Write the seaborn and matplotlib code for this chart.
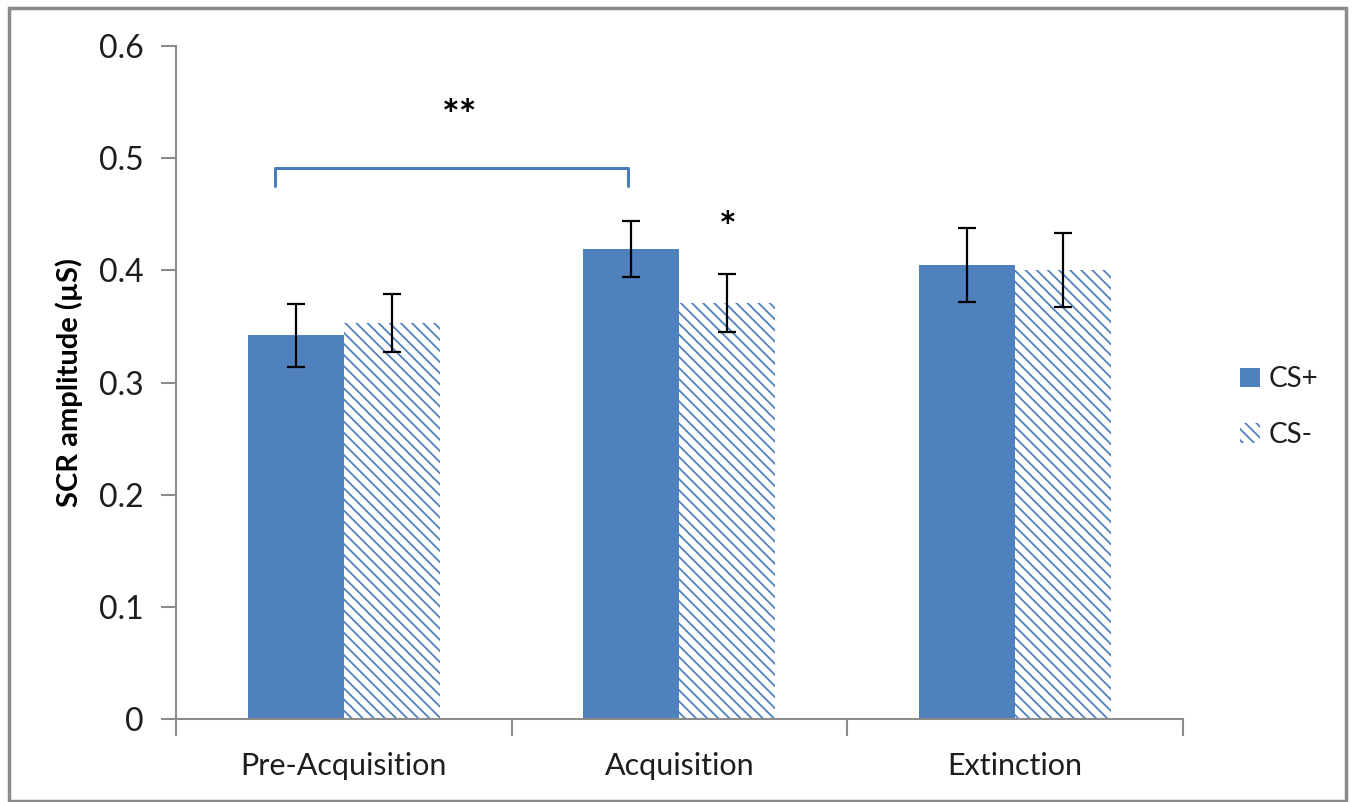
import matplotlib
matplotlib.use("Agg")
import matplotlib.pyplot as plt
from matplotlib.patches import Patch, Rectangle
import numpy as np
import pandas as pd
import seaborn as sns

# Mean SCR amplitude per phase and stimulus, with error bar half-widths
phases = ["Pre-Acquisition", "Acquisition", "Extinction"]
stimuli = ["CS+", "CS-"]
cs_plus = [0.342, 0.419, 0.405]
cs_minus = [0.353, 0.371, 0.400]
cs_plus_err = [0.028, 0.025, 0.033]
cs_minus_err = [0.026, 0.026, 0.033]
y_ticks = [0, 0.1, 0.2, 0.3, 0.4, 0.5, 0.6]
y_tick_labels = ["0", "0.1", "0.2", "0.3", "0.4", "0.5", "0.6"]

BLUE = "#4F81BD"
AXIS_GREY = "#8C8C8C"
TEXT = "#1E1E1E"

sns.set_theme(style="white")
plt.rcParams["font.family"] = ["Lato", "DejaVu Sans"]
plt.rcParams["hatch.linewidth"] = 1.3

df = pd.DataFrame({
    "phase": phases * 2,
    "stimulus": [stimuli[0]] * 3 + [stimuli[1]] * 3,
    "amp": cs_plus + cs_minus,
    "err": cs_plus_err + cs_minus_err,
})

fig = plt.figure(figsize=(13.52, 8.02), dpi=100)
ax = fig.add_axes([0.1302, 0.1035, 0.8748 - 0.1302, 0.9426 - 0.1035])

sns.barplot(data=df, x="phase", y="amp", hue="stimulus", order=phases,
            hue_order=stimuli, palette=[BLUE, "white"], width=0.572,
            errorbar=None, legend=False, ax=ax, saturation=1)

# Style the bars: solid for CS+, diagonal hatch for CS-
bars = [p for p in ax.patches if isinstance(p, Rectangle)]
n = len(phases)
for i, bar in enumerate(bars[:2 * n]):
    if i < n:
        bar.set_facecolor(BLUE)
        bar.set_edgecolor(BLUE)
        bar.set_linewidth(0)
    else:
        bar.set_facecolor("white")
        bar.set_edgecolor(BLUE)
        bar.set_hatch("\\\\\\")
        bar.set_linewidth(0)

# Error bars at the bar centres
for bar, (_, row) in zip(bars[:2 * n], df.iterrows()):
    xc = bar.get_x() + bar.get_width() / 2
    ax.errorbar(xc, bar.get_height(), yerr=row["err"], fmt="none",
                ecolor="black", elinewidth=1.6, capsize=6.5, capthick=1.6,
                zorder=5)

ax.set_ylim(0, 0.6)
ax.set_xlim(-0.5, 2.5)
ax.set_yticks(y_ticks)
ax.set_yticklabels(y_tick_labels)
ax.set_xticks([-0.5, 0.5, 1.5, 2.5])
ax.set_xticklabels([])
ax.set_xticks([0, 1, 2], minor=True)
ax.set_xticklabels(phases, minor=True)
ax.tick_params(axis="x", which="major", direction="out", length=12,
               width=1.5, color=AXIS_GREY, bottom=True)
ax.tick_params(axis="x", which="minor", length=0, labelsize=22,
               pad=24, labelcolor=TEXT)
ax.tick_params(axis="y", direction="out", length=11, width=1.5,
               color=AXIS_GREY, left=True, labelsize=23, pad=12,
               labelcolor=TEXT)
ax.set_xlabel("")
ax.set_ylabel("SCR amplitude (µS)", fontsize=21, fontweight="bold",
              labelpad=12, color="black")

for side in ["top", "right"]:
    ax.spines[side].set_visible(False)
for side in ["left", "bottom"]:
    ax.spines[side].set_color(AXIS_GREY)
    ax.spines[side].set_linewidth(1.5)

# Significance bracket between pre-acquisition and acquisition
ax.plot([-0.205, -0.205, 0.846, 0.846], [0.475, 0.491, 0.491, 0.475],
        color="#4A7EBB", lw=2.2, solid_joinstyle="round", zorder=4)
ax.text(0.346, 0.536, "**", ha="center", va="center", fontsize=30,
        fontweight="bold", color="black")
ax.text(1.143, 0.436, "*", ha="center", va="center", fontsize=30,
        fontweight="bold", color="black")

# Legend on the right
handles = [Patch(facecolor=BLUE, edgecolor=BLUE, linewidth=0),
           Patch(facecolor="white", edgecolor=BLUE, hatch="\\\\\\",
                 linewidth=0)]
fig.legend(handles, stimuli, loc="center left",
           bbox_to_anchor=(0.899, 0.4925), frameon=False, fontsize=20,
           handlelength=0.7, handleheight=0.7, handletextpad=0.3,
           labelspacing=1.05, labelcolor=TEXT)

# Grey outer frame
fig.patches.append(Rectangle((9 / 1352, 1 - 801 / 802), (1346 - 9) / 1352,
                             (801 - 8) / 802, transform=fig.transFigure,
                             fill=False, edgecolor="#8A8A8A", lw=2.5,
                             zorder=10))

fig.savefig("out.png", dpi=100)
